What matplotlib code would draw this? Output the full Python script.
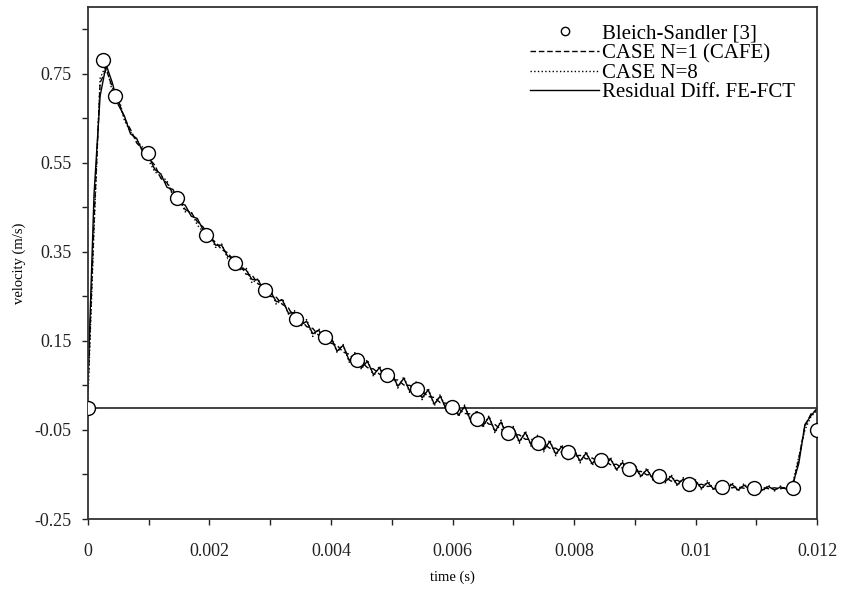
import numpy as np
import matplotlib
matplotlib.use("Agg")
import matplotlib.pyplot as plt
from matplotlib.ticker import FixedLocator, FixedFormatter

plt.rcParams['font.family'] = ['Liberation Serif', 'DejaVu Serif']

# experimental points (Bleich-Sandler)
bs_time = [0.0, 0.00024, 0.00044, 0.00098, 0.00146, 0.00194, 0.00242, 0.00292,
           0.00342, 0.0039, 0.00442, 0.00492, 0.00541, 0.00599, 0.0064, 0.00691,
           0.0074, 0.0079, 0.00845, 0.00891, 0.0094, 0.0099, 0.01044, 0.01097,
           0.0116, 0.012]
bs_vel = [0.0, 0.78, 0.70, 0.572, 0.471, 0.388, 0.326, 0.265,
          0.199, 0.159, 0.108, 0.074, 0.042, 0.002, -0.025, -0.057,
          -0.08, -0.10, -0.117, -0.138, -0.153, -0.171, -0.178, -0.180,
          -0.180, -0.05]

# simulation output sampled every 1e-4 s
sim_time = np.linspace(0.0, 0.012, 121)

resid_fefct = [
    0.06, 0.48, 0.70, 0.77, 0.73, 0.68, 0.655, 0.615, 0.605, 0.575,
    0.565, 0.535, 0.525, 0.495, 0.49, 0.46, 0.455, 0.43, 0.425, 0.398,
    0.39, 0.365, 0.365, 0.34, 0.337, 0.312, 0.31, 0.288, 0.287, 0.262,
    0.262, 0.238, 0.242, 0.212, 0.214, 0.186, 0.194, 0.166, 0.174, 0.148,
    0.158, 0.127, 0.14, 0.106, 0.122, 0.09, 0.104, 0.074, 0.09, 0.06,
    0.078, 0.048, 0.066, 0.036, 0.054, 0.022, 0.04, 0.008, 0.026, -0.005,
    0.014, -0.017, 0.003, -0.029, -0.009, -0.041, -0.021, -0.053, -0.032, -0.065,
    -0.045, -0.076, -0.056, -0.085, -0.066, -0.095, -0.076, -0.104, -0.087, -0.113,
    -0.095, -0.12, -0.102, -0.126, -0.108, -0.131, -0.115, -0.139, -0.123, -0.147,
    -0.131, -0.154, -0.139, -0.16, -0.146, -0.166, -0.154, -0.173, -0.16, -0.177,
    -0.165, -0.181, -0.168, -0.183, -0.17, -0.184, -0.172, -0.185, -0.174, -0.185,
    -0.175, -0.185, -0.177, -0.185, -0.178, -0.183, -0.172, -0.125, -0.038, -0.018,
    -0.002]

case_n1 = [
    0.04, 0.42, 0.73, 0.76, 0.72, 0.69, 0.65, 0.625, 0.595, 0.58,
    0.56, 0.545, 0.515, 0.505, 0.48, 0.468, 0.445, 0.438, 0.418, 0.405,
    0.382, 0.372, 0.355, 0.348, 0.33, 0.322, 0.30, 0.298, 0.278, 0.272,
    0.25, 0.248, 0.232, 0.224, 0.2, 0.198, 0.182, 0.178, 0.162, 0.16,
    0.145, 0.14, 0.125, 0.12, 0.106, 0.103, 0.09, 0.087, 0.075, 0.074,
    0.063, 0.062, 0.051, 0.05, 0.039, 0.037, 0.025, 0.023, 0.011, 0.01,
    -0.001, -0.002, -0.013, -0.014, -0.025, -0.026, -0.037, -0.038, -0.049, -0.05,
    -0.061, -0.061, -0.071, -0.071, -0.081, -0.081, -0.091, -0.091, -0.101, -0.10,
    -0.109, -0.107, -0.115, -0.113, -0.121, -0.119, -0.128, -0.127, -0.136, -0.135,
    -0.144, -0.143, -0.151, -0.149, -0.157, -0.156, -0.165, -0.163, -0.17, -0.168,
    -0.174, -0.172, -0.177, -0.175, -0.179, -0.177, -0.18, -0.178, -0.181, -0.179,
    -0.182, -0.179, -0.182, -0.18, -0.182, -0.179, -0.177, -0.115, -0.042, -0.014,
    -0.004]

case_n8 = [
    0.02, 0.40, 0.74, 0.77, 0.71, 0.70, 0.645, 0.62, 0.60, 0.585,
    0.555, 0.53, 0.52, 0.51, 0.475, 0.47, 0.44, 0.44, 0.41, 0.395,
    0.392, 0.36, 0.368, 0.335, 0.34, 0.31, 0.315, 0.28, 0.29, 0.258,
    0.268, 0.232, 0.245, 0.21, 0.218, 0.182, 0.198, 0.16, 0.178, 0.145,
    0.16, 0.124, 0.142, 0.102, 0.125, 0.086, 0.108, 0.07, 0.094, 0.056,
    0.082, 0.044, 0.07, 0.032, 0.058, 0.018, 0.044, 0.004, 0.03, -0.008,
    0.018, -0.02, 0.006, -0.032, -0.006, -0.045, -0.018, -0.057, -0.028, -0.069,
    -0.042, -0.08, -0.052, -0.089, -0.062, -0.099, -0.072, -0.108, -0.083, -0.117,
    -0.091, -0.124, -0.098, -0.13, -0.104, -0.135, -0.111, -0.142, -0.119, -0.15,
    -0.127, -0.157, -0.135, -0.163, -0.142, -0.169, -0.15, -0.176, -0.157, -0.18,
    -0.162, -0.184, -0.163, -0.186, -0.165, -0.188, -0.168, -0.188, -0.17, -0.189,
    -0.172, -0.188, -0.174, -0.187, -0.176, -0.184, -0.17, -0.11, -0.05, -0.02,
    -0.006]

x_major = [0, 0.002, 0.004, 0.006, 0.008, 0.01, 0.012]
x_labels = ['0', '0.002', '0.004', '0.006', '0.008', '0.01', '0.012']
x_minor = [0.001, 0.003, 0.005, 0.007, 0.009, 0.011]
y_major = [-0.25, -0.05, 0.15, 0.35, 0.55, 0.75]
y_labels = ['-0.25', '-0.05', '0.15', '0.35', '0.55', '0.75']
y_minor = [-0.15, 0.05, 0.25, 0.45, 0.65, 0.85]

fig = plt.figure(figsize=(8.41, 5.92), dpi=100)
ax = fig.add_axes([0.1046, 0.1233, 0.8669, 0.8649])

ax.axhline(0.0, color='#333333', lw=1.3, zorder=1)

ax.plot(bs_time, bs_vel, 'o', ms=10, mfc='white', mec='black', mew=1.0,
        label='Bleich-Sandler [3]', zorder=3)
ax.plot(sim_time, case_n1, '--', color='black', lw=1.0, dashes=(4, 2),
        label='CASE N=1 (CAFE)', zorder=2)
ax.plot(sim_time, case_n8, ':', color='black', lw=1.0,
        label='CASE N=8', zorder=2)
ax.plot(sim_time, resid_fefct, '-', color='black', lw=1.0,
        label='Residual Diff. FE-FCT', zorder=2)

ax.set_xlim(0, 0.012)
ax.set_ylim(-0.25, 0.9)

ax.xaxis.set_major_locator(FixedLocator(x_major))
ax.xaxis.set_major_formatter(FixedFormatter(x_labels))
ax.xaxis.set_minor_locator(FixedLocator(x_minor))
ax.yaxis.set_major_locator(FixedLocator(y_major))
ax.yaxis.set_major_formatter(FixedFormatter(y_labels))
ax.yaxis.set_minor_locator(FixedLocator(y_minor))

ax.tick_params(which='both', direction='out', length=4, width=1.0,
               colors='#222222', labelsize=13)
ax.tick_params(axis='x', pad=13)
ax.tick_params(axis='y', pad=8)
for s in ax.spines.values():
    s.set_linewidth(1.3)
    s.set_color('#333333')

ax.set_xlabel('time (s)', fontsize=10.5, labelpad=8)
ax.set_ylabel('velocity (m/s)', fontsize=10.5, labelpad=6)

ax.legend(loc='upper right', bbox_to_anchor=(0.99, 0.995), frameon=False,
          fontsize=15, labelspacing=0.0, handlelength=3.3, handletextpad=0.15,
          borderpad=0.2, markerscale=0.6)

fig.savefig('out.png', dpi=100)
